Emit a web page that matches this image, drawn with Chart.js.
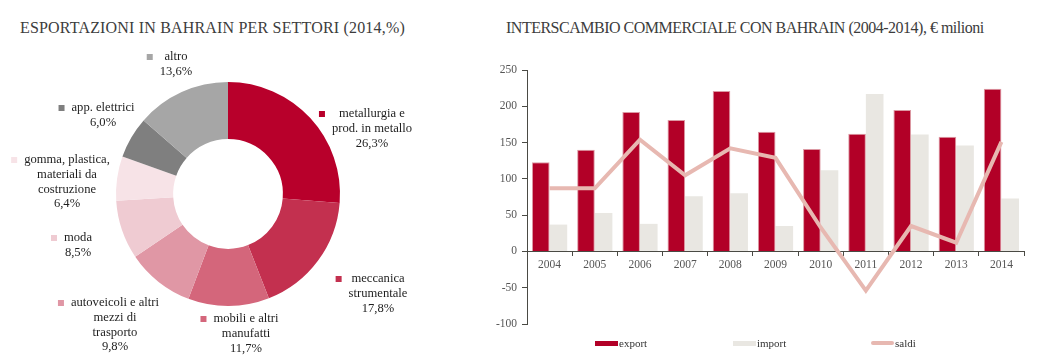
<!DOCTYPE html>
<html>
<head>
<meta charset="utf-8">
<script src="https://cdn.jsdelivr.net/npm/chart.js@4/dist/chart.umd.min.js"></script>
<style>
  body { margin: 0; width: 1046px; height: 364px; background: #fff; position: relative; overflow: hidden;
         font-family: "Liberation Serif", "Times New Roman", serif; }
  .title { position: absolute; top: 19px; font-size: 16px; line-height: 18px; color: #3c3c3c; white-space: nowrap; }
  canvas { position: absolute; top: 0; }
  #legend { position: absolute; left: 595px; top: 335px; display: flex; font-size: 11px; line-height: 16px; color: #333; }
  .item { width: 138px; display: flex; align-items: center; }
  .swatch { width: 23px; height: 5px; margin-right: 1px; }
</style>
</head>
<body>
<div class="title" style="left:20px; letter-spacing:0.18px">ESPORTAZIONI IN BAHRAIN PER SETTORI (2014,%)</div>
<div class="title" style="left:506px; letter-spacing:-0.5px">INTERSCAMBIO COMMERCIALE CON BAHRAIN (2004-2014), € milioni</div>
<canvas id="left" width="490" height="364" style="left:0"></canvas>
<canvas id="right" width="556" height="364" style="left:490px"></canvas>
<div id="legend"></div>
<script>
// --- donut data ---
const sectors = ['metallurgia e\nprod. in metallo', 'meccanica\nstrumentale', 'mobili e altri\nmanufatti',
  'autoveicoli e altri\nmezzi di\ntrasporto', 'moda', 'gomma, plastica,\nmateriali da\ncostruzione',
  'app. elettrici', 'altro'];
const shares = [26.3, 17.8, 11.7, 9.8, 8.5, 6.4, 6.0, 13.6];
const sectorColors = ['#b8002b', '#c3304f', '#d4667b', '#e097a5', '#efcbd2', '#f7e3e7', '#7f7f7f', '#a6a6a6'];

// --- bar/line data ---
const years = ['2004', '2005', '2006', '2007', '2008', '2009', '2010', '2011', '2012', '2013', '2014'];
const exportVals = [123, 140, 192, 181, 221, 165, 141, 162, 195, 158, 224];
const importVals = [37, 53, 38, 76, 80, 35, 112, 217, 161, 146, 73];
const saldi = [87, 87, 154, 105, 142, 129, 33, -54, 35, 12, 151];

const axisColor = '#4a4a44';
const tickFont = { family: '"Liberation Serif", serif', size: 11.5 };

// label block positions, offset from donut centre (px)
const labelOffsets = [[144, -80], [150, 85], [18, 125], [-113, 109], [-150, 44], [-161, -34], [-125, -86], [-52, -137]];

const sectorLabels = {
  id: 'sectorLabels',
  afterDraw(chart) {
    const ctx = chart.ctx;
    const arcs = chart.getDatasetMeta(0).data;
    ctx.save();
    ctx.font = '12.6px "Liberation Serif", serif';
    ctx.textAlign = 'center';
    ctx.textBaseline = 'middle';
    arcs.forEach((arc, i) => {
      const lines = sectors[i].split('\n');
      lines.push(shares[i].toFixed(1).replace('.', ',') + '%');
      const cx = arc.x + labelOffsets[i][0];
      const y0 = arc.y + labelOffsets[i][1];
      const w = Math.max(...lines.map(l => ctx.measureText(l).width));
      ctx.fillStyle = sectorColors[i];
      ctx.fillRect(cx - w / 2 - 13, y0 - 3, 6, 6);
      ctx.fillStyle = '#1e1e1e';
      lines.forEach((l, k) => ctx.fillText(l, cx, y0 + k * 14.7));
    });
    ctx.restore();
  }
};

new Chart(document.getElementById('left'), {
  type: 'doughnut',
  data: {
    labels: sectors,
    datasets: [{ data: shares, backgroundColor: sectorColors, borderWidth: 0 }]
  },
  options: {
    responsive: false,
    animation: false,
    cutout: '49%',
    layout: { padding: { left: 116, right: 150, top: 82, bottom: 58 } },
    plugins: { legend: { display: false }, tooltip: { enabled: false } }
  },
  plugins: [sectorLabels]
});

const trade = new Chart(document.getElementById('right'), {
  data: {
    labels: years,
    datasets: [
      { type: 'line', label: 'saldi', data: saldi, borderColor: '#e7b8b1', borderWidth: 4,
        pointRadius: 0, tension: 0, order: 0 },
      { type: 'bar', label: 'export', data: exportVals, backgroundColor: '#b20027',
        borderColor: '#dc9aa4', borderWidth: { top: 1, left: 1, right: 1, bottom: 0 }, order: 1 },
      { type: 'bar', label: 'import', data: importVals, backgroundColor: '#e9e7e2', order: 1 }
    ]
  },
  options: {
    responsive: false,
    animation: false,
    layout: { padding: { left: 0, right: 22, top: 70, bottom: 40 } },
    datasets: { bar: { categoryPercentage: 0.78, barPercentage: 1 } },
    plugins: { legend: { display: false }, tooltip: { enabled: false } },
    scales: {
      x: {
        position: { y: 0 },
        grid: { display: true, drawOnChartArea: false, drawTicks: true, tickLength: 4, color: axisColor, offset: true },
        border: { color: axisColor, width: 1 },
        ticks: { color: '#555', font: tickFont, padding: 3 }
      },
      y: {
        min: -100, max: 250,
        grid: { display: true, drawOnChartArea: false, drawTicks: true, tickLength: 5, color: axisColor },
        border: { color: axisColor, width: 1 },
        ticks: { stepSize: 50, color: '#555', font: tickFont, padding: 5 },
        afterFit: s => { s.width = 37; }
      }
    }
  }
});

// legend in the order shown under the chart
const legendEl = document.getElementById('legend');
['export', 'import', 'saldi'].forEach(name => {
  const ds = trade.data.datasets.find(d => d.label === name);
  const item = document.createElement('div');
  item.className = 'item';
  const sw = document.createElement('span');
  sw.className = 'swatch';
  sw.style.background = ds.type === 'line' ? ds.borderColor : ds.backgroundColor;
  if (ds.type === 'line') { sw.style.height = '4px'; sw.style.borderRadius = '2px'; }
  item.appendChild(sw);
  item.appendChild(document.createTextNode(name));
  legendEl.appendChild(item);
});
</script>
</body>
</html>
